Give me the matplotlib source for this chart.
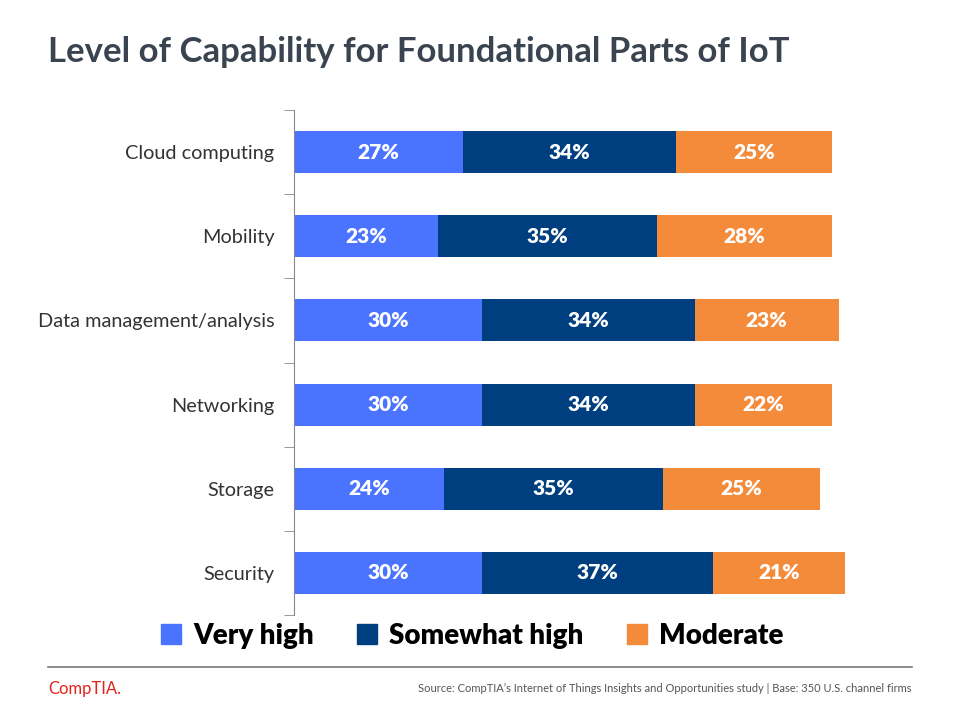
import matplotlib
matplotlib.use("Agg")
import matplotlib.pyplot as plt
from matplotlib.lines import Line2D

plt.rcParams['font.family'] = ['Lato', 'DejaVu Sans']

categories = ['Cloud computing', 'Mobility', 'Data management/analysis',
              'Networking', 'Storage', 'Security']
very_high = [27, 23, 30, 30, 24, 30]
somewhat_high = [34, 35, 34, 34, 35, 37]
moderate = [25, 28, 23, 22, 25, 21]
series_names = ['Very high', 'Somewhat high', 'Moderate']
colors = ['#4A73FF', '#003F7F', '#F38B3B']

fig = plt.figure(figsize=(9.6, 7.2), dpi=100)
ax = fig.add_axes([0.30625, 0.1458, 0.652, 0.7014])

y = list(range(len(categories)))
left = [0] * len(categories)
for vals, name, c in zip([very_high, somewhat_high, moderate], series_names, colors):
    bars = ax.barh(y, vals, left=left, height=0.5, color=c, label=name)
    for b, v in zip(bars, vals):
        ax.text(b.get_x() + b.get_width() / 2, b.get_y() + b.get_height() / 2,
                '%d%%' % v, ha='center', va='center', color='white',
                fontsize=15, fontweight='heavy')
    left = [l + v for l, v in zip(left, vals)]

ax.set_xlim(0, 100)
ax.set_ylim(len(categories) - 0.5, -0.5)
ax.set_yticks(y)
ax.set_yticklabels(categories, fontsize=14.3, color='#333333')
ax.tick_params(axis='y', length=0, pad=14)
# tick marks between categories
ax.set_yticks([i - 0.5 for i in range(len(categories) + 1)], minor=True)
ax.tick_params(axis='y', which='minor', length=7, color='#888888', direction='out')
ax.set_xticks([])
for s in ['top', 'right', 'bottom']:
    ax.spines[s].set_visible(False)
ax.spines['left'].set_color('#888888')

# title
fig.text(48 / 960, 1 - 52 / 720, 'Level of Capability for Foundational Parts of IoT',
         fontsize=25, fontweight='bold', color='#3A4450', ha='left', va='center')

# legend
handles = [Line2D([0], [0], marker='s', linestyle='none', markersize=14,
                  markerfacecolor=c, markeredgecolor=c) for c in colors]
fig.legend(handles, series_names, loc='center', bbox_to_anchor=(0.49, 1 - 636 / 720),
           ncol=3, frameon=False, prop={'size': 20, 'weight': 'heavy'},
           handletextpad=0.3, columnspacing=1.4, handlelength=1.0)

# footer
fig.add_artist(Line2D([48 / 960, 912 / 960], [1 - 667 / 720, 1 - 667 / 720],
                      color='#777777', linewidth=1.2))
fig.text(48 / 960, 1 - 689 / 720, 'CompTIA.', fontsize=12, color='#E2231A',
         ha='left', va='center')
fig.text(912 / 960, 1 - 688 / 720,
         'Source: CompTIA\u2019s Internet of Things Insights and Opportunities study | Base: 350 U.S. channel firms',
         fontsize=8, color='#555555', ha='right', va='center')

fig.savefig('out.png', dpi=100)
